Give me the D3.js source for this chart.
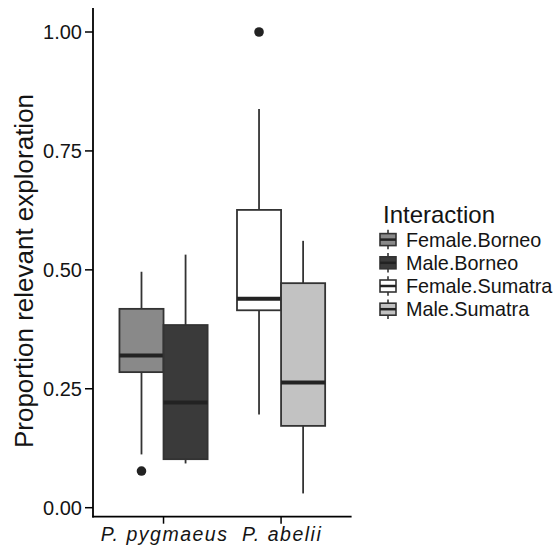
<!DOCTYPE html>
<html>
<head>
<meta charset="utf-8">
<script src="https://cdn.jsdelivr.net/npm/d3@7"></script>
<style>
  body { margin: 0; background: #fff; }
  svg { display: block; font-family: "Liberation Sans", Arial, sans-serif; }
</style>
</head>
<body>
<svg id="chart" width="556" height="550"></svg>
<script>
// ---- data ----
const species = ["P. pygmaeus", "P. abelii"];
const groups = ["Female.Borneo", "Male.Borneo", "Female.Sumatra", "Male.Sumatra"];
const groupSpecies = ["P. pygmaeus", "P. pygmaeus", "P. abelii", "P. abelii"];
const groupSex = ["Female", "Male", "Female", "Male"];
const whiskerLow = [0.112, 0.093, 0.196, 0.030];
const q1 = [0.285, 0.102, 0.415, 0.172];
const median = [0.320, 0.221, 0.439, 0.263];
const q3 = [0.418, 0.384, 0.626, 0.472];
const whiskerHigh = [0.496, 0.532, 0.838, 0.561];
const outliers = [[0.077], [], [1.00], []];
const fills = ["#898989", "#3a3a3a", "#ffffff", "#c2c2c2"];
const yTicks = [0, 0.25, 0.5, 0.75, 1.0];
const yTickLabels = ["0.00", "0.25", "0.50", "0.75", "1.00"];

const svg = d3.select("#chart");
const panel = { left: 93, right: 351.6, top: 8, bottom: 516.7 };

const y = d3.scaleLinear().domain([0, 1]).range([507.7, 32]);
const x = d3.scalePoint().domain(species).range([panel.left, panel.right]).padding(0.6);
const step = x.step();
const xInner = d3.scaleBand().domain(["Female", "Male"]).range([-0.375 * step, 0.375 * step]);
const bw = xInner.bandwidth();

const lineCol = "#333333";
const textCol = "#141414";
const boxes = groups.map((g, i) => ({
  g, sp: groupSpecies[i], sex: groupSex[i],
  lo: whiskerLow[i], q1: q1[i], med: median[i], q3: q3[i], hi: whiskerHigh[i],
  out: outliers[i], fill: fills[i]
}));

const gBox = svg.append("g");
boxes.forEach(b => {
  const x0 = x(b.sp) + xInner(b.sex);
  const cx = x0 + bw / 2;
  const g = gBox.append("g");
  // whiskers
  g.append("line").attr("x1", cx).attr("x2", cx).attr("y1", y(b.q3)).attr("y2", y(b.hi))
    .attr("stroke", lineCol).attr("stroke-width", 1.8);
  g.append("line").attr("x1", cx).attr("x2", cx).attr("y1", y(b.q1)).attr("y2", y(b.lo))
    .attr("stroke", lineCol).attr("stroke-width", 1.8);
  // box
  g.append("rect").attr("x", x0).attr("y", y(b.q3)).attr("width", bw).attr("height", y(b.q1) - y(b.q3))
    .attr("fill", b.fill).attr("stroke", lineCol).attr("stroke-width", 1.8);
  // median
  g.append("line").attr("x1", x0).attr("x2", x0 + bw).attr("y1", y(b.med)).attr("y2", y(b.med))
    .attr("stroke", "#222").attr("stroke-width", 4);
  // outliers
  b.out.forEach(v => {
    g.append("circle").attr("cx", cx).attr("cy", y(v)).attr("r", 4.8).attr("fill", "#222");
  });
});

// ---- axes ----
const axisCol = "#000";
svg.append("line").attr("x1", panel.left).attr("x2", panel.left).attr("y1", panel.top).attr("y2", panel.bottom + 0.8)
  .attr("stroke", axisCol).attr("stroke-width", 1.8);
svg.append("line").attr("x1", panel.left - 0.8).attr("x2", panel.right).attr("y1", panel.bottom).attr("y2", panel.bottom)
  .attr("stroke", axisCol).attr("stroke-width", 1.8);

yTicks.forEach((t, i) => {
  svg.append("line").attr("x1", panel.left - 8).attr("x2", panel.left).attr("y1", y(t)).attr("y2", y(t))
    .attr("stroke", axisCol).attr("stroke-width", 1.5);
  svg.append("text").attr("x", panel.left - 11).attr("y", y(t)).attr("dy", "0.36em")
    .attr("text-anchor", "end").attr("font-size", 20).attr("fill", textCol).text(yTickLabels[i]);
});

species.forEach(s => {
  svg.append("line").attr("x1", x(s)).attr("x2", x(s)).attr("y1", panel.bottom).attr("y2", panel.bottom + 7)
    .attr("stroke", axisCol).attr("stroke-width", 1.5);
  svg.append("text").attr("x", x(s) + 1).attr("y", 540.7)
    .attr("text-anchor", "middle").attr("font-size", 19.5).attr("font-style", "italic")
    .attr("letter-spacing", "1.5px").attr("fill", textCol).text(s);
});

// y title
svg.append("text").attr("transform", "translate(33,271) rotate(-90)")
  .attr("text-anchor", "middle").attr("font-size", 26).attr("fill", textCol)
  .text("Proportion relevant exploration");

// ---- legend ----
const leg = svg.append("g");
leg.append("text").attr("x", 383).attr("y", 223).attr("font-size", 24).attr("fill", textCol).text("Interaction");
const keyH = 23.2, keyTop = 228;
boxes.forEach((b, i) => {
  const cy = keyTop + keyH * i + keyH / 2;
  const kx = 380, kw = 16, cx = kx + kw / 2;
  leg.append("line").attr("x1", cx).attr("x2", cx).attr("y1", cy - keyH * 0.42).attr("y2", cy + keyH * 0.42)
    .attr("stroke", lineCol).attr("stroke-width", 1.6);
  leg.append("rect").attr("x", kx).attr("y", cy - 6).attr("width", kw).attr("height", 12)
    .attr("fill", b.fill).attr("stroke", lineCol).attr("stroke-width", 1.6);
  leg.append("line").attr("x1", kx).attr("x2", kx + kw).attr("y1", cy).attr("y2", cy)
    .attr("stroke", "#222").attr("stroke-width", 2.5);
  leg.append("text").attr("x", 406).attr("y", cy).attr("dy", "0.36em")
    .attr("font-size", 19.8).attr("fill", textCol).text(b.g);
});
</script>
</body>
</html>
